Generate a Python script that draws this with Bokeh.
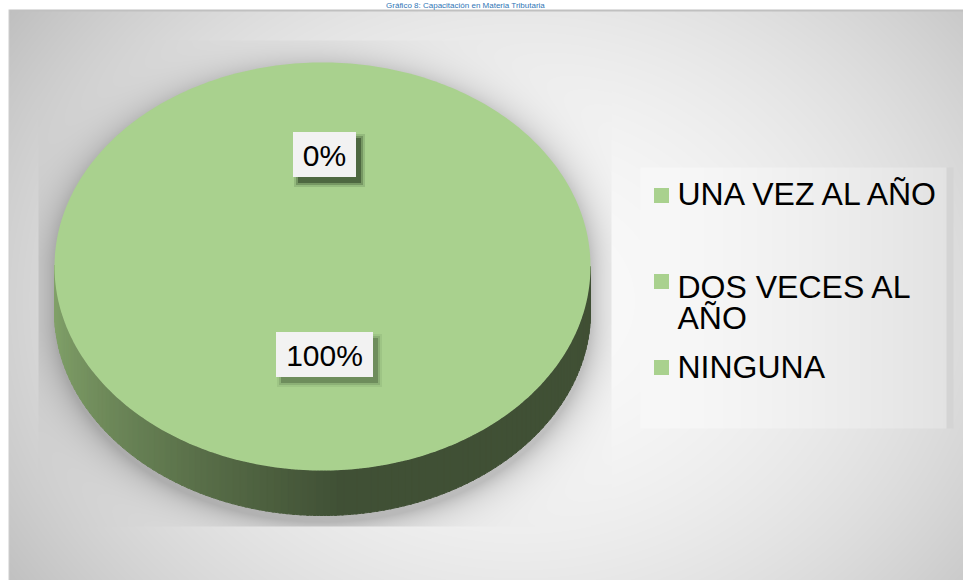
import numpy as np
from bokeh.plotting import figure
from bokeh.models import Range1d
from bokeh.embed import file_html
from bokeh.resources import INLINE
from bokeh.core.properties import value

# ---------------- data ----------------
categories = ["UNA VEZ AL AÑO", "DOS VECES AL AÑO", "NINGUNA"]
legend_labels = ["UNA VEZ AL AÑO", "DOS VECES AL\nAÑO", "NINGUNA"]
values = [0, 0, 100]
pct_labels = ["0%", "0%", "100%"]
slice_colors = ["#a9d18e", "#a9d18e", "#a9d18e"]
title_text = "Gráfico 8: Capacitación en Materia Tributaria"

# ---------------- canvas ----------------
W, H = 963, 580


def Y(y):
    return H - y


p = figure(width=W, height=H, x_range=Range1d(0, W), y_range=Range1d(0, H),
           output_backend="svg", toolbar_location=None, min_border=0,
           x_axis_location=None, y_axis_location=None)
p.grid.visible = False
p.outline_line_color = None
p.background_fill_color = "white"
p.border_fill_color = "white"

# pie geometry (screen pixels)
cx, cy, rx, ry, depth = 322.0, 266.0, 268.0, 204.0, 45.0

# ---------------- background (gradient + soft pie shadow + legend box) ----------------
yy, xx = np.mgrid[0:H, 0:W].astype(float)
t = np.sqrt(((xx - 520) / 600) ** 2 + ((yy - 300) / 500) ** 2)
g = 250 - 55 * t ** 2

# soft shadow around pie, clipped to plot area
ys = yy - 6
dyv = ys - np.clip(ys, cy, cy + depth)
e = np.sqrt(((xx - cx) / rx) ** 2 + (dyv / ry) ** 2)
dist = (e - 1) * 215
sh = 0.22 * np.exp(-np.clip(dist, 0, None) / 15)
clip = (xx >= 38) & (xx <= 610) & (yy <= 525) & (yy >= 40)
g = np.where(clip, g * (1 - sh), g)

# legend box
lb = (xx >= 640) & (xx <= 952) & (yy >= 167) & (yy <= 427)
lg = 248 - 22 * ((xx - 640) / 312) ** 1.5
lg = np.where(xx >= 946, 212, lg)
g = np.where(lb, lg, g)

# frame
g = np.where((xx < 8) | (yy < 9), 255, g)
g = np.where((yy >= 9) & (yy < 11) & (xx >= 8), 192, g)
g = np.where((xx >= 8) & (xx < 9) & (yy >= 9), 205, g)

g = np.clip(g, 0, 255).astype(np.uint8)
img = np.empty((H, W), dtype=np.uint32)
view = img.view(dtype=np.uint8).reshape((H, W, 4))
view[..., 0] = g
view[..., 1] = g
view[..., 2] = g
view[..., 3] = 255
p.image_rgba(image=[img[::-1]], x=0, y=0, dw=W, dh=H)

# ---------------- pie ----------------
total = float(sum(values))
fracs = [v / total for v in values]
starts = np.cumsum([0] + fracs[:-1]) * 360.0
ends = starts + np.array(fracs) * 360.0


def ept(theta_deg, dy=0.0):
    th = np.radians(theta_deg)
    return cx + rx * np.sin(th), cy - ry * np.cos(th) + dy


light = np.array([0x82, 0xa2, 0x6a])
dark = np.array([0x40, 0x50, 0x35])

# side walls (front half: 90..270 deg clockwise from top)
side_xs, side_ys, side_cols = [], [], []
for a0, a1, v in zip(starts, ends, values):
    if v <= 0:
        continue
    lo, hi = max(a0, 90.0), min(a1, 270.0)
    if hi <= lo:
        continue
    n = 120
    edges = np.linspace(lo, hi, n + 1)
    for i in range(n):
        seg = np.linspace(edges[i], edges[i + 1] + 0.4, 4)
        tx, ty = ept(seg)
        bx, by = ept(seg[::-1], depth)
        xs = list(tx) + list(bx)
        ysl = [Y(q) for q in list(ty) + list(by)]
        xm = float(np.mean(tx))
        f = np.clip((cx + 20 - xm) / (cx + 20 - 54), 0, 1)
        f = 1 - f
        col = light + (dark - light) * (f ** 0.7)
        side_xs.append(xs)
        side_ys.append(ysl)
        side_cols.append("#%02x%02x%02x" % tuple(int(c) for c in col))
p.patches(side_xs, side_ys, fill_color=side_cols, line_color=side_cols, line_width=1)

# top faces
for a0, a1, v, c in zip(starts, ends, values, slice_colors):
    if v <= 0:
        continue
    seg = np.linspace(a0, a1, 361)
    tx, ty = ept(seg)
    if a1 - a0 < 359.999:
        tx = np.concatenate([[cx], tx])
        ty = np.concatenate([[cy], ty])
    p.patch(list(tx), [Y(q) for q in ty], fill_color=c, line_color=None)

# data labels
for a0, a1, lab in zip(starts, ends, pct_labels):
    mid = (a0 + a1) / 2.0
    th = np.radians(mid)
    lx = cx + 2 + 0.49 * rx * np.sin(th)
    ly = cy - 12 - 0.49 * ry * np.cos(th)
    bw = 17 * len(lab) + 29
    bh = 45
    for k, (grow, a) in enumerate([(8, 0.08), (4, 0.15), (0, 0.3)]):
        p.rect(x=lx + 5, y=Y(ly + 6), width=bw + grow, height=bh + grow,
               fill_color="#2a3a20", fill_alpha=a, line_color=None)
    p.rect(x=lx, y=Y(ly), width=bw, height=bh, fill_color="#f2f2f2", line_color=None)
    p.text(x=[lx], y=[Y(ly + 1)], text=[lab], text_align="center", text_baseline="middle",
           text_font=value("Liberation Sans"), text_font_size="30px", text_color="#000000")

# ---------------- legend ----------------
row0, row_step = 195.0, 86.0
for i, (lab, c) in enumerate(zip(legend_labels, slice_colors)):
    ry_ = row0 + i * row_step
    p.rect(x=661, y=Y(ry_), width=15, height=15, fill_color=c, line_color=None)
    lines = lab.split("\n")
    first = ry_ - 2 + (7 if len(lines) > 1 else 0)
    if len(lines) == 1:
        first += 1 if i == len(legend_labels) - 1 else 0
    for j, ln in enumerate(lines):
        p.text(x=[677], y=[Y(first + j * 31)], text=[ln], text_align="left",
               text_baseline="middle", text_font=value("Liberation Sans"),
               text_font_size="32px", text_color="#000000")

# ---------------- title (only a sliver visible at the top in the reference) ----------------
p.text(x=[465], y=[Y(4.5)], text=[title_text], text_align="center", text_baseline="middle",
       text_font=value("Liberation Sans"), text_font_size="8px", text_color="#2f75b5")

open("out.html", "w").write(file_html(p, INLINE))
